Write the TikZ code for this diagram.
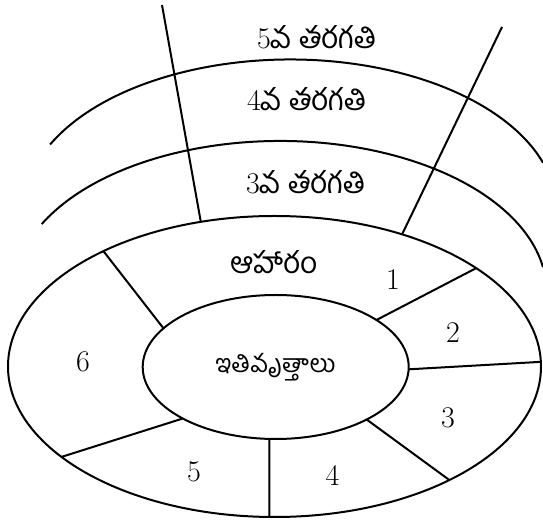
\documentclass[tikz,border=0pt]{standalone}
\usepackage{fontspec}
\usetikzlibrary{shapes.geometric}
\newfontfamily\telugu[Script=Telugu]{Hind Guntur}

\begin{document}
\begin{tikzpicture}[x=1pt, y=1pt,
  ring/.style={ellipse, draw, line width=2pt, inner sep=0pt, outer sep=0pt},
  band/.style={line width=2pt},
  spoke/.style={line width=2pt},
  lbl/.style={font=\fontsize{30}{34}\selectfont, inner sep=0pt}
]
\useasboundingbox (0,0) rectangle (543,524);
\clip (0,0) rectangle (543,524);

%% grade bands
\draw[band] (41.7,299.9) arc[start angle=153.4, end angle=9.3, x radius=266.5, y radius=150.5];
\draw[band] (50.1,379.5) arc[start angle=154.2, end angle=18.3, x radius=266.5, y radius=150.5];

%% rings
\node[ring, lbl, font=\fontsize{25}{29}\selectfont, minimum width=266pt, minimum height=144pt]
  (inner) at (275.7,157) {\telugu ఇతివృత్తాలు};
\node[ring, minimum width=533pt, minimum height=301pt] (outer) at (274.5,157.5) {};

%% long spokes through the bands
\coordinate (ltop) at (162,519);
\coordinate (rtop) at (502,497);
\draw[spoke] (ltop) -- (outer.117.9);
\draw[spoke] (rtop) -- (outer.46.1);

%% sector spokes
\draw[spoke] (inner.161.1) -- (outer.146.5);
\draw[spoke] (inner.25.6)  -- (outer.26.2);
\draw[spoke] (inner.-1)    -- (outer.1);
\draw[spoke] (inner.-30.1) -- (outer.-33.1);
\draw[spoke] (inner.-95.3) -- (outer.-92.1);
\draw[spoke] (inner.-151.7) -- (outer.-157.8);

%% labels
\node[lbl] (g5) at (317,487) {5\telugu వ\ తరగతి};
\node[lbl] (g4) at (307,425) {4\telugu వ\ తరగతి};
\node[lbl] (g3) at (306,342) {3\telugu వ\ తరగతి};
\node[lbl] (food) at (274,262) {\telugu ఆహారం};
\node[lbl] (n1) at (393,244) {1};
\node[lbl] (n2) at (453,191) {2};
\node[lbl] (n3) at (448,106) {3};
\node[lbl] (n4) at (332.5,49) {4};
\node[lbl] (n5) at (194,52) {5};
\node[lbl] (n6) at (83,162) {6};

\end{tikzpicture}
\end{document}
